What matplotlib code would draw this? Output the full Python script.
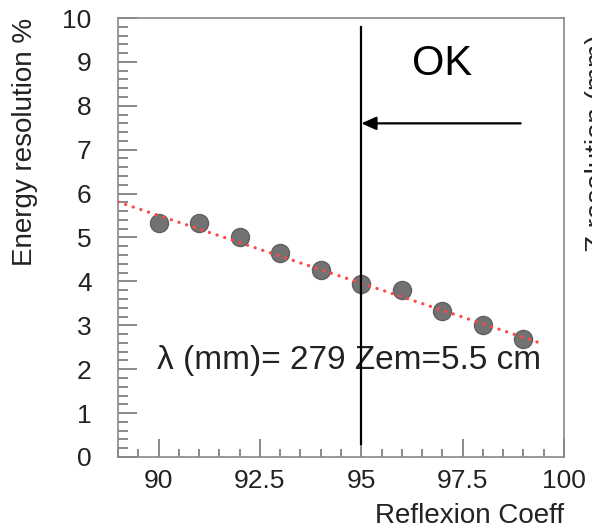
import matplotlib.pyplot as plt
from matplotlib.ticker import MultipleLocator

# measured points
reflexion = [90, 91, 92, 93, 94, 95, 96, 97, 98, 99]
resolution = [5.33, 5.33, 5.01, 4.65, 4.26, 3.95, 3.80, 3.33, 3.00, 2.69]

# straight fit (end points)
fit_x = [89.0, 99.5]
fit_y = [5.81, 2.57]

# "OK" marker line and arrow
cut_x = 95
cut_y = [0.3, 9.8]
arrow_from = (98.93, 7.6)
arrow_to = (95.0, 7.6)

plt.rcParams['font.family'] = ['Liberation Sans', 'DejaVu Sans']

fig = plt.figure(figsize=(5.92, 5.32), dpi=100)
ax = fig.add_axes([118 / 592, 1 - 457 / 532, (564 - 118) / 592, (457 - 18) / 532])

ax.plot(fit_x, fit_y, color='#ff4848', lw=2.4, linestyle=(0, (0.01, 2.4)),
        dash_capstyle='round', zorder=3)
ax.plot(reflexion, resolution, 'o', color='#727272', markeredgecolor='#606060',
        markersize=13, zorder=2)

ax.plot([cut_x, cut_x], cut_y, color='black', lw=1.6, zorder=4)
ax.annotate('', xy=arrow_to, xytext=arrow_from,
            arrowprops=dict(arrowstyle='-|>,head_length=0.9,head_width=0.4',
                            color='black', lw=1.6, shrinkA=0, shrinkB=0))
ax.text(97.0, 8.95, 'OK', fontsize=30, ha='center', va='center')
ax.text(89.95, 2.2, 'λ (mm)= 279 Zem=5.5 cm', fontsize=24, ha='left',
        va='center', color='#222222')

ax.set_xlim(89, 100)
ax.set_ylim(0, 10)
ax.xaxis.set_major_locator(MultipleLocator(2.5))
ax.xaxis.set_minor_locator(MultipleLocator(0.5))
ax.yaxis.set_major_locator(MultipleLocator(1))
ax.yaxis.set_minor_locator(MultipleLocator(0.2))
ax.set_xticks([90, 92.5, 95, 97.5, 100])
ax.set_xticklabels(['90', '92.5', '95', '97.5', '100'])

ax.tick_params(which='both', direction='in', color='#777777', width=1.2,
               top=False, right=False, labelsize=19, labelcolor='#222222')
ax.tick_params(axis='y', which='major', length=14, pad=19)
ax.tick_params(axis='y', which='minor', length=7)
ax.tick_params(axis='x', which='major', length=13, pad=9)
ax.tick_params(axis='x', which='minor', length=6)
for s in ax.spines.values():
    s.set_color('#888888')
    s.set_linewidth(1.2)

ax.set_xlabel('Reflexion Coeff', fontsize=20, loc='right', color='#222222')
ax.set_ylabel('Energy resolution %', fontsize=20, loc='top', color='#222222')
ax.yaxis.set_label_coords(-80 / 446, 1.0)
ax.xaxis.set_label_coords(1.0, -46 / 439)

# neighbouring panel's label, cut by the image edge
fig.text(585 / 592, 1 - 252 / 532, 'Z resolution (mm)', rotation=90,
         fontsize=20, ha='left', va='bottom', color='#222222')

fig.savefig('out.png', dpi=100)
